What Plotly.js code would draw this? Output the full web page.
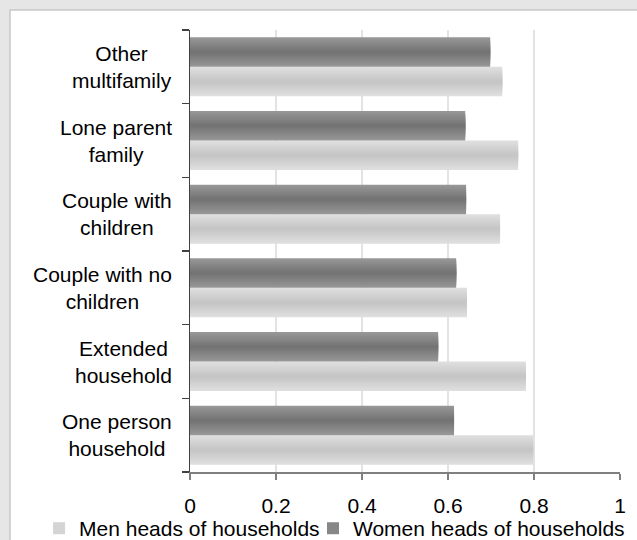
<!DOCTYPE html>
<html>
<head>
<meta charset="utf-8">
<script src="https://cdn.plot.ly/plotly-3.0.1.min.js"></script>
<style>
  html, body { margin: 0; padding: 0; background: #e6e6e6; }
  #chart { width: 637px; height: 540px; }
</style>
</head>
<body>
<div id="chart"></div>
<script>
// Household types, listed bottom to top
const categories = [
  'One person household',
  'Extended household',
  'Couple with no children',
  'Couple with children',
  'Lone parent family',
  'Other multifamily'
];
const categoryLabels = [
  'One person<br>household',
  'Extended<br>household',
  'Couple with no<br>children',
  'Couple with<br>children',
  'Lone parent<br>family',
  'Other<br>multifamily'
];
const seriesNames = ['Men heads of households', 'Women heads of households'];
const menValues = [0.798, 0.781, 0.644, 0.721, 0.763, 0.726];
const womenValues = [0.614, 0.577, 0.619, 0.642, 0.640, 0.698];
const xTickValues = [0, 0.2, 0.4, 0.6, 0.8, 1];
const xTickLabels = ['0', '0.2', '0.4', '0.6', '0.8', '1'];

const FONT = 'Liberation Sans, Arial, sans-serif';
const FONT_SIZE = 21;

// Bars are shaded with a vertical gradient: stacked layers of narrowing
// width, going from the edge colour to the centre colour.
function hexToRgb(h) {
  return [1, 3, 5].map(i => parseInt(h.slice(i, i + 2), 16));
}
function mix(a, b, t) {
  const ca = hexToRgb(a), cb = hexToRgb(b);
  const c = ca.map((v, i) => Math.round(v + (cb[i] - v) * t));
  return 'rgb(' + c.join(',') + ')';
}
function gradientBars(name, values, center, edgeColor, midColor, legendId) {
  const layers = 8;
  const fullWidth = 0.4;
  const traces = [];
  for (let k = 0; k < layers; k++) {
    const w = fullWidth * (1 - k / layers);
    traces.push({
      type: 'bar',
      orientation: 'h',
      name: name,
      legend: legendId,
      legendgroup: name,
      showlegend: k === 3,
      x: values,
      y: categories,
      width: w,
      offset: center - w / 2,
      marker: { color: mix(edgeColor, midColor, k / (layers - 1)), line: { width: 0 } },
      hoverinfo: 'x+name'
    });
  }
  return traces;
}

const data = [
  ...gradientBars(seriesNames[0], menValues, -0.2, '#dedede', '#c6c6c6', 'legend'),
  ...gradientBars(seriesNames[1], womenValues, 0.2, '#969696', '#747474', 'legend2')
];

const annotations = categories.map((c, i) => ({
  xref: 'paper', yref: 'y',
  x: -0.037, y: c,
  xanchor: 'right', yanchor: 'middle',
  align: 'center',
  showarrow: false,
  text: categoryLabels[i],
  font: { family: FONT, size: FONT_SIZE, color: '#000000' }
}));

const legendStyle = {
  orientation: 'h',
  xanchor: 'left',
  y: -0.128, yanchor: 'middle',
  bgcolor: 'rgba(0,0,0,0)',
  font: { family: FONT, size: FONT_SIZE, color: '#000000' },
  itemwidth: 30
};

const layout = {
  width: 637,
  height: 540,
  margin: { l: 190, r: 17, t: 30, b: 68, autoexpand: false },
  paper_bgcolor: '#e6e6e6',
  plot_bgcolor: '#ffffff',
  barmode: 'overlay',
  font: { family: FONT, size: FONT_SIZE, color: '#000000' },
  shapes: [{
    type: 'rect', xref: 'paper', yref: 'paper', layer: 'below',
    x0: -0.4186, x1: 1.06, y0: -0.2, y1: 1.045,
    fillcolor: '#ffffff',
    line: { color: '#c8c8c8', width: 1.5 }
  }],
  xaxis: {
    range: [0, 1],
    tickvals: xTickValues,
    ticktext: xTickLabels,
    ticks: 'outside',
    ticklen: 6,
    tickcolor: '#7f7f7f',
    tickwidth: 1.5,
    ticklabelstandoff: 8,
    showgrid: true,
    gridcolor: '#e3e3e3',
    gridwidth: 1.5,
    zeroline: false,
    showline: true,
    linecolor: '#7f7f7f',
    linewidth: 1.5,
    tickfont: { family: FONT, size: FONT_SIZE, color: '#000000' },
    fixedrange: true
  },
  yaxis: {
    type: 'category',
    categoryorder: 'array',
    categoryarray: categories,
    range: [-0.5, 5.5],
    tickson: 'boundaries',
    ticks: 'outside',
    ticklen: 7,
    tickcolor: '#404040',
    tickwidth: 1.5,
    showticklabels: false,
    showgrid: false,
    zeroline: false,
    showline: true,
    linecolor: '#404040',
    linewidth: 1.5,
    fixedrange: true
  },
  annotations: annotations,
  showlegend: true,
  legend: Object.assign({}, legendStyle, { x: -0.351 }),
  legend2: Object.assign({}, legendStyle, { x: 0.286 })
};

Plotly.newPlot('chart', data, layout, { displayModeBar: false, staticPlot: true });
</script>
</body>
</html>
